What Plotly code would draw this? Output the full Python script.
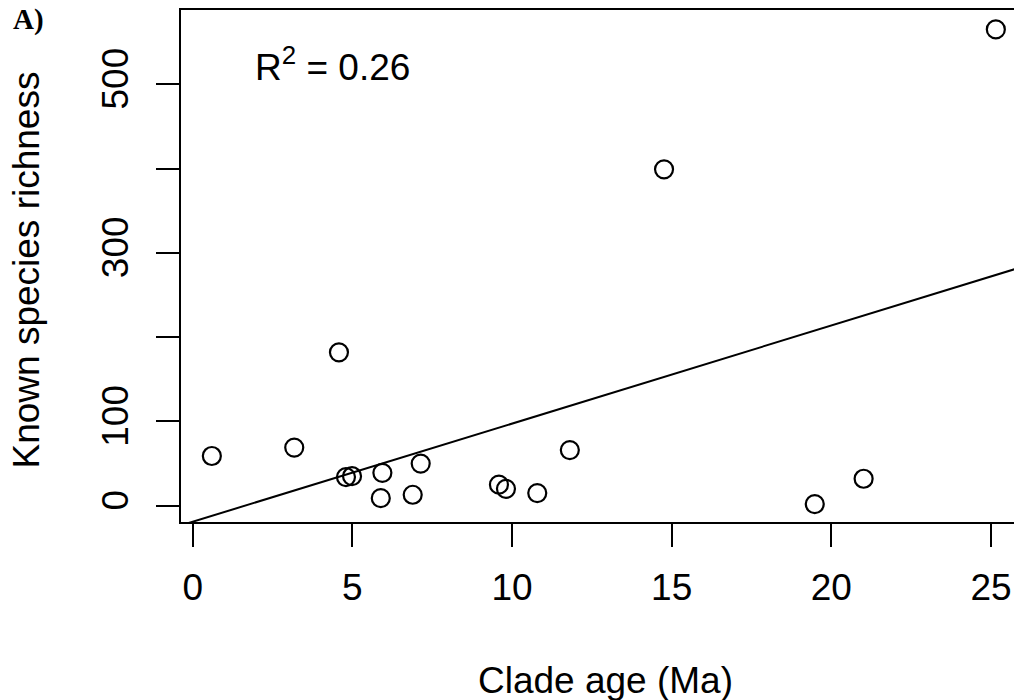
import numpy as np
import plotly.graph_objects as go

# Data
clade_age = [0.60, 3.18, 4.58, 4.80, 4.99, 5.94, 5.89, 7.14, 6.89, 9.59, 9.81, 10.79, 11.81, 14.76, 19.48, 21.01, 25.15]
richness = [59, 69, 182, 34, 35, 39, 9, 50, 13, 25, 20, 15, 66, 399, 2, 32, 565]
x_ticks = [0, 5, 10, 15, 20, 25]
y_ticks = [0, 100, 200, 300, 400, 500]
y_tick_labels = ["0", "100", "", "300", "", "500"]
r2_label = "R<sup>2</sup> = 0.26"
panel_label = "<b>A)</b>"
x_title = "Clade age (Ma)"
y_title = "Known species richness"

x_range = [-0.366, 26.22]
y_range = [-19.3, 588.0]

slope, intercept = np.polyfit(clade_age, richness, 1)
fit_x = np.array(x_range)
fit_y = intercept + slope * fit_x

FONT = "Liberation Sans, Arial, sans-serif"
ML, MT, W, H = 173, 2, 1022, 700
PW = W - ML          # plot width in px
PH = 512             # plot height in px
MB = H - MT - PH

def px(xf):  # figure pixel x -> paper
    return (xf - ML) / PW

def py(yf):  # figure pixel y -> paper
    return (MT + PH - yf) / PH

fig = go.Figure()
fig.add_trace(go.Scatter(
    x=fit_x, y=fit_y, mode="lines",
    line=dict(color="black", width=2), showlegend=False, hoverinfo="skip"))
fig.add_trace(go.Scatter(
    x=clade_age, y=richness, mode="markers",
    marker=dict(symbol="circle-open", size=18, color="black", line=dict(width=2.2, color="black")),
    showlegend=False))

fig.update_layout(
    width=W, height=H,
    margin=dict(l=ML, r=0, t=MT, b=MB, pad=0),
    paper_bgcolor="white", plot_bgcolor="white",
    font=dict(family=FONT, size=36, color="black"),
    xaxis=dict(
        range=x_range, tickvals=x_ticks, ticks="outside", ticklen=23, tickwidth=2,
        tickcolor="black", showline=True, linewidth=2.4, linecolor="black", mirror=True,
        showgrid=False, zeroline=False, ticklabelstandoff=8,
        tickfont=dict(family=FONT, size=37)),
    yaxis=dict(
        range=y_range, tickvals=y_ticks, ticktext=y_tick_labels, ticks="outside", ticklen=23,
        tickwidth=2, tickcolor="black", showline=True, linewidth=2.4, linecolor="black",
        mirror=False, showgrid=False, zeroline=False, tickangle=-90, ticklabelstandoff=13,
        tickfont=dict(family=FONT, size=37)),
)

fig.add_annotation(text=x_title, xref="paper", yref="paper", x=px(597), y=py(672),
                   xanchor="center", yanchor="middle", showarrow=False,
                   font=dict(family=FONT, size=37))
fig.add_annotation(text=y_title, xref="paper", yref="paper", x=px(17.5), y=py(262),
                   xanchor="center", yanchor="middle", showarrow=False, textangle=-90,
                   font=dict(family=FONT, size=37))
fig.add_annotation(text=r2_label, xref="paper", yref="paper", x=px(245), y=py(56),
                   xanchor="left", yanchor="middle", showarrow=False,
                   font=dict(family=FONT, size=37))
fig.add_annotation(text=panel_label, xref="paper", yref="paper", x=px(3), y=py(11),
                   xanchor="left", yanchor="middle", showarrow=False,
                   font=dict(family="Liberation Serif, Times New Roman, serif", size=29))

fig.write_html("out.html")
